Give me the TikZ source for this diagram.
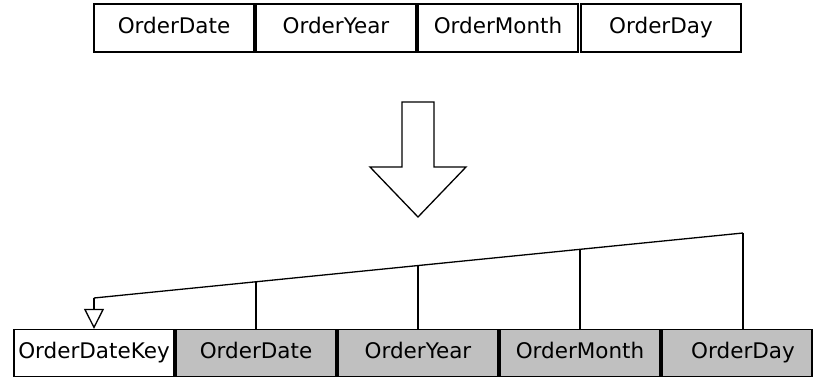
\documentclass[tikz,border=0pt]{standalone}
\usepackage{fontspec}
\setmainfont{DejaVu Sans}
\usetikzlibrary{arrows.meta}
\definecolor{cellgray}{HTML}{C0C0C0}
\tikzset{
  cell/.style={draw=black, line width=1.3pt, minimum width=160pt, minimum height=47pt,
               inner sep=0pt, text height=15.5pt, text depth=4.5pt,
               font=\fontsize{21.5}{25}\selectfont},
  plaincell/.style={cell, fill=white},
  graycell/.style={cell, fill=cellgray},
  link/.style={line width=1.3pt},
  keyarrow/.style={line width=1.3pt, -{Triangle[open, length=20pt, width=20pt]}}
}
\begin{document}
\begin{tikzpicture}[x=1pt, y=-1pt]
  \useasboundingbox (0,0) rectangle (813,379);

  % source columns
  \node[plaincell, minimum height=48pt] (sdate)  at (174,28) {OrderDate};
  \node[plaincell, minimum height=48pt] (syear)  at (336,28) {OrderYear};
  \node[plaincell, minimum height=48pt] (smonth) at (498,28) {OrderMonth};
  \node[plaincell, minimum height=48pt] (sday)   at (661,28) {OrderDay};

  % transformation arrow
  \draw[line width=1.3pt, fill=white]
    (402,102) -- (434,102) -- (434,167) -- (466,167) -- (418,217)
    -- (370,167) -- (402,167) -- cycle;

  % resulting columns
  \node[plaincell] (tkey)   at (94,353)  {OrderDateKey};
  \node[graycell]  (tdate)  at (256,353) {OrderDate};
  \node[graycell]  (tyear)  at (418,353) {OrderYear};
  \node[graycell]  (tmonth) at (580,353) {OrderMonth};
  \node[graycell, minimum width=150pt] (tday) at (737,353) {\hspace{12pt}OrderDay};

  % bus line feeding the key
  \coordinate (bkey)   at (94,298);
  \coordinate (bdate)  at (256,281.8);
  \coordinate (byear)  at (418,265.6);
  \coordinate (bmonth) at (580,249.3);
  \coordinate (bday)   at (743,233);

  \draw[link] (tdate.north)  -- (bdate);
  \draw[link] (tyear.north)  -- (byear);
  \draw[link] (tmonth.north) -- (bmonth);
  \draw[link] (tday.north -| bday) -- (bday);
  \draw[link] (bday) -- (bkey);
  \draw[keyarrow] (bkey) -- (tkey.north);
\end{tikzpicture}
\end{document}
